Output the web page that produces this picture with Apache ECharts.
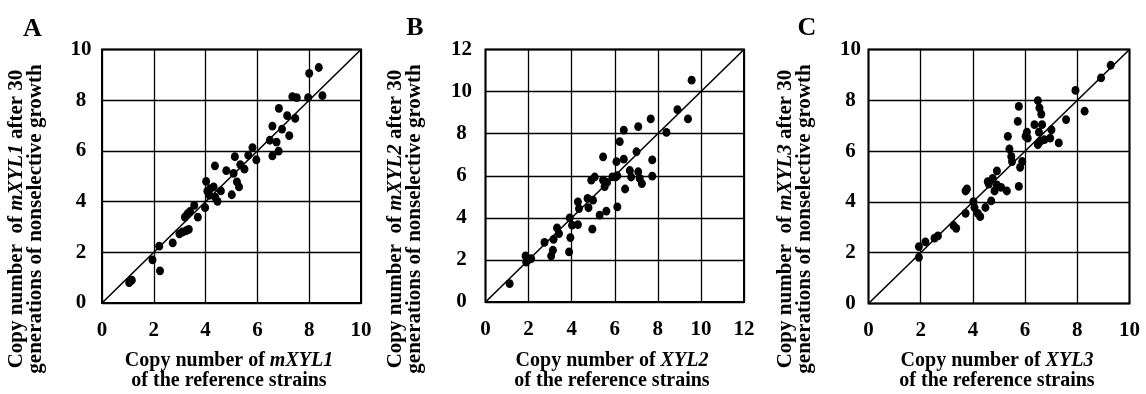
<!DOCTYPE html>
<html><head><meta charset="utf-8">
<script src="https://cdn.jsdelivr.net/npm/echarts@6/dist/echarts.min.js"></script>
<style>html,body{margin:0;padding:0;background:#fff}#c{width:1146px;height:394px}</style>
</head><body><div id="c"></div>
<script>
// ---- data ----
const panelLetters = ['A', 'B', 'C'];
const yGenes = ['mXYL1', 'mXYL2', 'mXYL3'];
const xGenes = ['mXYL1', 'XYL2', 'XYL3'];
const axisMaxima = [10, 12, 10];
const tickInterval = 2;

const panelA_x = [1.05,1.15,1.95,2.24,2.21,2.73,2.99,3.10,3.25,3.35,3.20,3.30,3.40,3.56,3.70,3.98,4.02,4.07,4.15,4.18,4.31,4.36,4.37,4.46,4.59,4.80,5.01,5.08,5.13,5.21,5.29,5.34,5.50,5.65,5.81,5.96,6.48,6.58,6.58,6.74,6.83,6.82,6.95,7.15,7.23,7.35,7.52,7.46,7.96,8.00,8.37,8.51];
const panelA_y = [0.80,0.90,1.70,1.27,2.24,2.37,2.73,2.80,2.85,2.90,3.39,3.52,3.61,3.85,3.39,3.76,4.80,4.41,4.25,4.51,4.58,5.41,4.18,4.01,4.42,5.22,4.27,5.11,5.77,4.78,4.58,5.46,5.28,5.83,6.13,5.65,6.42,6.98,5.80,6.35,7.68,5.99,6.86,7.39,6.60,8.14,8.10,7.28,8.10,9.06,9.29,8.18];

const panelB_x = [1.12,1.86,1.92,2.02,2.12,1.89,2.74,3.05,3.13,3.16,3.32,3.41,3.88,3.94,3.91,4.02,4.29,4.29,4.34,4.74,4.78,4.99,4.96,4.91,5.07,5.30,5.61,5.46,5.46,5.53,5.64,5.89,6.05,6.12,6.12,6.08,6.23,6.42,6.42,6.48,6.70,6.76,7.01,7.09,7.09,7.16,7.26,7.67,7.74,7.74,8.40,8.91,9.40,9.57];
const panelB_y = [0.87,2.19,1.98,2.03,2.06,1.90,2.83,2.19,2.46,2.98,3.52,3.25,2.38,3.06,4.00,3.65,3.68,4.76,4.44,4.92,4.48,4.84,3.46,5.79,5.94,4.13,4.32,6.90,5.79,5.48,5.68,5.95,5.95,6.00,4.52,6.67,7.62,8.17,6.79,5.37,6.25,5.94,7.14,8.33,6.19,5.87,5.63,8.70,6.75,5.98,8.06,9.14,8.70,10.54];

const panelC_x = [1.93,1.93,2.18,2.53,2.66,3.26,3.36,3.72,3.77,3.72,4.02,4.06,4.19,4.28,4.48,4.57,4.61,4.70,4.76,4.83,4.92,4.92,5.08,5.30,5.34,5.40,5.47,5.50,5.76,5.72,5.76,5.81,5.89,6.02,6.07,6.10,6.36,6.49,6.55,6.62,6.49,6.53,6.58,6.65,6.74,6.96,7.01,7.29,7.57,7.93,8.28,8.91,9.28];
const panelC_y = [1.82,2.24,2.43,2.57,2.66,3.07,2.96,4.43,4.51,3.55,4.01,3.78,3.55,3.42,3.78,4.80,4.70,4.04,4.93,4.43,5.22,4.67,4.57,4.43,6.58,6.09,5.79,5.59,7.76,7.17,4.61,5.36,5.59,6.58,6.75,6.51,7.04,7.99,7.70,7.46,6.25,6.75,6.38,7.04,6.45,6.51,6.84,6.32,7.24,8.39,7.57,8.88,9.38];

const xs = [panelA_x, panelB_x, panelC_x];
const ys = [panelA_y, panelB_y, panelC_y];

// ---- layout / style ----
const FONT = '"Liberation Serif","Times New Roman",Times,serif';
const grids = [
  {left: 102, top: 49.5, width: 259, height: 253.5},
  {left: 485.5, top: 49.5, width: 258.5, height: 252.5},
  {left: 868.5, top: 49.5, width: 261, height: 254}
];
const yLabelMargins = [21, 24, 18];
const letterPos = [[32.5, 29], [415, 28.5], [807, 28.5]];
const yTitlePos = [[26.5, 219], [405.5, 219], [795.5, 219]];
const xTitlePos = [229, 612, 997];

const chart = echarts.init(document.getElementById('c'), null, {renderer: 'canvas'});

const option = {
  animation: false,
  backgroundColor: '#fff',
  grid: grids.map(g => Object.assign({show: true, borderColor: '#000', borderWidth: 2, backgroundColor: 'transparent'}, g)),
  xAxis: axisMaxima.map((m, i) => ({
    type: 'value', gridIndex: i, min: 0, max: m, interval: tickInterval,
    axisLine: {show: false}, axisTick: {show: false},
    splitLine: {show: true, lineStyle: {color: '#000', width: 1.3}},
    axisLabel: {margin: 17, color: '#000', fontFamily: FONT, fontWeight: 'bold', fontSize: 21}
  })),
  yAxis: axisMaxima.map((m, i) => ({
    type: 'value', gridIndex: i, min: 0, max: m, interval: tickInterval,
    axisLine: {show: false}, axisTick: {show: false},
    splitLine: {show: true, lineStyle: {color: '#000', width: 1.3}},
    axisLabel: {margin: yLabelMargins[i], align: 'center', color: '#000', fontFamily: FONT, fontWeight: 'bold', fontSize: 21}
  })),
  series: [],
  graphic: []
};

axisMaxima.forEach((m, i) => {
  option.series.push({
    type: 'line', xAxisIndex: i, yAxisIndex: i, data: [[0, 0], [m, m]],
    symbol: 'none', lineStyle: {color: '#000', width: 1.6}, z: 3, silent: true
  });
  option.series.push({
    type: 'scatter', xAxisIndex: i, yAxisIndex: i,
    data: xs[i].map((x, k) => [x, ys[i][k]]),
    symbol: 'circle', symbolSize: [8, 8.8],
    itemStyle: {color: '#000', opacity: 1}, z: 4, silent: true
  });
  option.graphic.push({
    type: 'text', x: letterPos[i][0], y: letterPos[i][1],
    style: {text: panelLetters[i], font: 'bold 26px ' + FONT, fill: '#000',
      textAlign: 'center', textVerticalAlign: 'middle', align: 'center', verticalAlign: 'middle'}
  });
  option.graphic.push({
    type: 'text', x: yTitlePos[i][0], y: yTitlePos[i][1], rotation: Math.PI / 2,
    style: {
      text: '{n|Copy number  of }{i|' + yGenes[i] + '}{n| after 30}\n{n|generations of nonselective growth}',
      fill: '#000', textAlign: 'center', textVerticalAlign: 'middle', align: 'center', verticalAlign: 'middle',
      rich: {
        n: {font: 'bold 21px ' + FONT, lineHeight: 19, fill: '#000'},
        i: {font: 'italic bold 21px ' + FONT, lineHeight: 19, fill: '#000'}
      }
    }
  });
  option.graphic.push({
    type: 'text', x: xTitlePos[i], y: 371,
    style: {
      text: '{n|Copy number of }{i|' + xGenes[i] + '}\n{n|of the reference strains}',
      fill: '#000', textAlign: 'center', textVerticalAlign: 'middle', align: 'center', verticalAlign: 'middle',
      rich: {
        n: {font: 'bold 20px ' + FONT, lineHeight: 20, fill: '#000'},
        i: {font: 'italic bold 20px ' + FONT, lineHeight: 20, fill: '#000'}
      }
    }
  });
});

chart.setOption(option);
</script>
</body></html>
